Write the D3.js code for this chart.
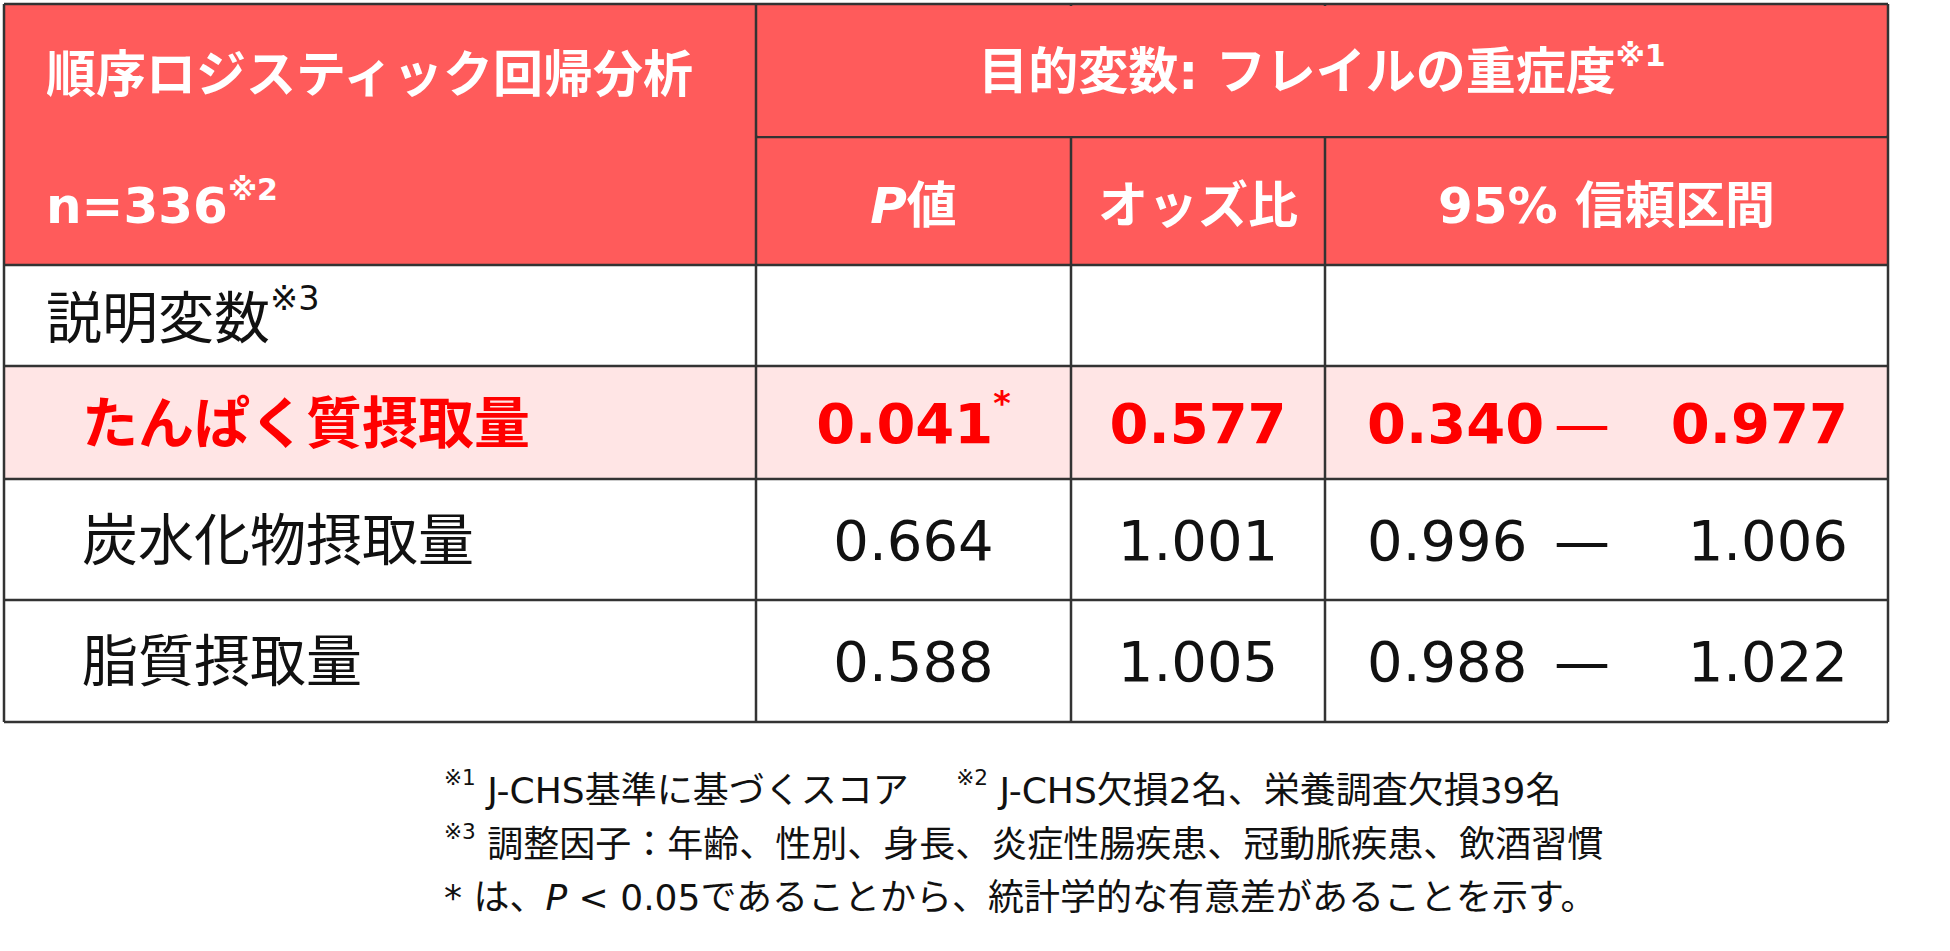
<!DOCTYPE html>
<html><head><meta charset="utf-8">
<script src="https://cdn.jsdelivr.net/npm/d3@7"></script>
<style>body{margin:0;background:#fff}svg{display:block}text{font-family:"DejaVu Sans","Noto Sans CJK JP",sans-serif}</style>
</head><body>
<script>
const headerLeft = ["順序ロジスティック回帰分析", "n=336"];
const headerTop = "目的変数: フレイルの重症度";
const colHeads = ["値", "オッズ比", "95% 信頼区間"];
const variables = ["たんぱく質摂取量", "炭水化物摂取量", "脂質摂取量"];
const pValues = ["0.041", "0.664", "0.588"];
const oddsRatios = ["0.577", "1.001", "1.005"];
const ciLow = ["0.340", "0.996", "0.988"];
const ciHigh = ["0.977", "1.006", "1.022"];
const footnotes = [
  [["※1","sup"],[" J-CHS基準に基づくスコア　 ",""],["※2","sup"],[" J-CHS欠損2名、栄養調査欠損39名",""]],
  [["※3","sup"],[" 調整因子：年齢、性別、身長、炎症性腸疾患、冠動脈疾患、飲酒習慣",""]],
  [["* は、",""],["P","it"],[" < 0.05であることから、統計学的な有意差があることを示す。",""]]
];

const W=1950,H=951;
const svg=d3.select("body").append("svg").attr("width",W).attr("height",H);
const xs=[4,756,1071,1325,1888];
const ys=[4,137,265,366,479,600,722];
const red="#FF5B5B", line="#333";

svg.append("rect").attr("x",xs[0]).attr("y",ys[0]).attr("width",xs[4]-xs[0]).attr("height",ys[2]-ys[0]).attr("fill",red);
svg.append("rect").attr("x",xs[0]).attr("y",ys[3]).attr("width",xs[4]-xs[0]).attr("height",ys[4]-ys[3]).attr("fill","#FFE5E5");

const L=(x1,y1,x2,y2)=>svg.append("line").attr("x1",x1).attr("y1",y1).attr("x2",x2).attr("y2",y2).attr("stroke",line).attr("stroke-width",2.5);
[0,2,3,4,5,6].forEach(i=>L(xs[0],ys[i],xs[4],ys[i]));
L(xs[1],ys[1],xs[4],ys[1]);
xs.forEach(x=>L(x,ys[0],x,ys[6]));
svg.append("rect").attr("x",xs[1]+2).attr("y",ys[0]+2).attr("width",xs[4]-xs[1]-4).attr("height",ys[1]-ys[0]-3).attr("fill",red);

function T(x,y,parts,o){
  const t=svg.append("text").attr("x",x).attr("y",y).attr("dominant-baseline","central")
    .attr("text-anchor",o.anchor||"start").attr("font-size",o.size).attr("font-weight",o.bold?"bold":"normal").attr("fill",o.fill);
  let shifted=0;
  parts.forEach(([s,k])=>{
    const ts=t.append("tspan").text(s);
    if(k==="sup"){ ts.attr("font-size",o.size*0.6).attr("dy",-o.size*0.35-shifted); shifted=-o.size*0.35; }
    else { ts.attr("dy",-shifted); shifted=0; }
    if(k==="it") ts.attr("font-style","italic");
  });
  return t;
}
const hs=50;
T(46,75,[[headerLeft[0],""]],{size:hs,bold:true,fill:"#fff"});
T(46,206,[[headerLeft[1],""],["※2","sup"]],{size:hs,bold:true,fill:"#fff"});
T((xs[1]+xs[4])/2,72,[[headerTop,""],["※1","sup"]],{size:hs,bold:true,fill:"#fff",anchor:"middle"});
T((xs[1]+xs[2])/2,206,[["P","it"],[colHeads[0],""]],{size:hs,bold:true,fill:"#fff",anchor:"middle"});
T((xs[2]+xs[3])/2,206,[[colHeads[1],""]],{size:hs,bold:true,fill:"#fff",anchor:"middle"});
T((xs[3]+xs[4])/2,206,[[colHeads[2],""]],{size:hs,bold:true,fill:"#fff",anchor:"middle"});

T(46,318,[["説明変数",""],["※3","sup"]],{size:56,fill:"#111"});
const fs=56;
variables.forEach((v,i)=>{
  const y=(ys[3+i]+ys[4+i])/2, hi=i===0;
  const o={size:fs,bold:hi,fill:hi?"#FF0000":"#111"};
  T(82,y,[[v,""]],o);
  T((xs[1]+xs[2])/2,y,hi?[[pValues[i],""],["*","sup"]]:[[pValues[i],""]],{...o,anchor:"middle"});
  T((xs[2]+xs[3])/2,y,[[oddsRatios[i],""]],{...o,anchor:"middle"});
  T(1367,y,[[ciLow[i],""]],o);
  T(1582,y,[["—",""]],{...o,anchor:"middle",bold:false});
  T(1848,y,[[ciHigh[i],""]],{...o,anchor:"end"});
});

[790,844,897].forEach((y,i)=>T(444,y,footnotes[i],{size:36,fill:"#111"}));
</script></body></html>
